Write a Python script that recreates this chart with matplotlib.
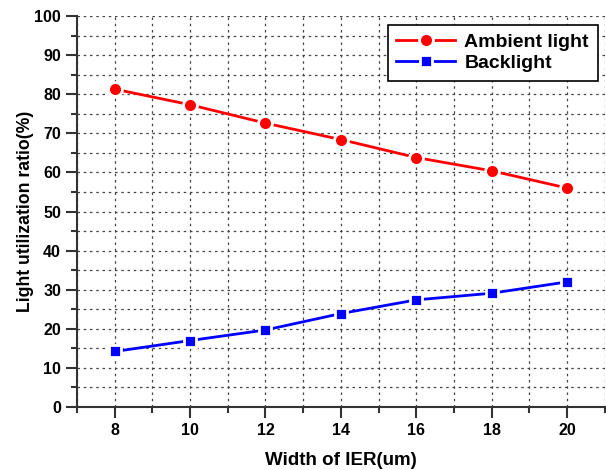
import matplotlib
matplotlib.use("Agg")
import matplotlib.pyplot as plt
from matplotlib.ticker import MultipleLocator

width = [8, 10, 12, 14, 16, 18, 20]
ambient = [81.3, 77.3, 72.6, 68.4, 63.8, 60.4, 56.0]
backlight = [14.2, 17.0, 19.7, 23.9, 27.4, 29.1, 32.0]

plt.rcParams["font.family"] = ["Liberation Sans", "DejaVu Sans"]
plt.rcParams["font.weight"] = "bold"

fig = plt.figure(figsize=(6.06, 4.70), dpi=100)
ax = fig.add_axes([0.127, 0.134, 0.871, 0.832])

ax.plot(width, ambient, color="red", lw=2, marker="o", ms=10,
        mec="white", mew=2, label="Ambient light", zorder=3)
ax.plot(width, backlight, color="blue", lw=2, marker="s", ms=9,
        mec="white", mew=2, label="Backlight", zorder=3)

ax.set_xlim(7, 21)
ax.set_ylim(0, 100)
ax.xaxis.set_major_locator(MultipleLocator(2))
ax.xaxis.set_minor_locator(MultipleLocator(1))
ax.yaxis.set_major_locator(MultipleLocator(10))
ax.yaxis.set_minor_locator(MultipleLocator(5))
ax.grid(True, which="both", color="#444", linestyle=(0, (2, 3)), linewidth=0.9)

for s in ["top", "right"]:
    ax.spines[s].set_visible(False)
for s in ["left", "bottom"]:
    ax.spines[s].set_linewidth(1.5)
    ax.spines[s].set_color("#333")
ax.tick_params(which="major", length=8, width=1.5, color="#333", labelsize=11.5)
ax.tick_params(which="minor", length=4, width=1.5, color="#333")
for lbl in ax.get_xticklabels() + ax.get_yticklabels():
    lbl.set_fontweight("bold")

ax.set_xlabel("Width of IER(um)", fontsize=13.5, fontweight="bold", labelpad=10)
ax.set_ylabel("Light utilization ratio(%)", fontsize=12.7, fontweight="bold", labelpad=0)

leg = ax.legend(loc="upper right", bbox_to_anchor=(1.005, 1.002), fontsize=14,
                fancybox=False, framealpha=1, edgecolor="black",
                handlelength=3.0, borderpad=0.45, labelspacing=0.15,
                handletextpad=0.5)
leg.get_frame().set_linewidth(1.2)
for t in leg.get_texts():
    t.set_fontweight("bold")

fig.savefig("out.png", dpi=100)
